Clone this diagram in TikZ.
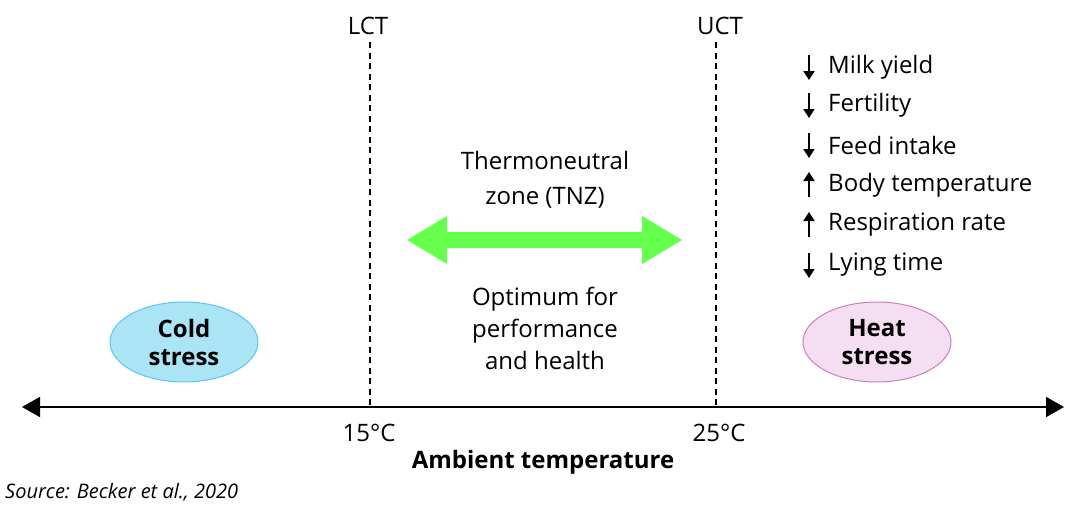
\documentclass[tikz,border=0pt]{standalone}
\usepackage{fontspec}
\setmainfont{Open Sans}
\usetikzlibrary{arrows.meta,shapes.geometric}
\definecolor{tnzgreen}{RGB}{102,255,77}
\definecolor{coldfill}{RGB}{170,228,245}
\definecolor{colddraw}{RGB}{90,200,232}
\definecolor{heatfill}{RGB}{246,222,242}
\definecolor{heatdraw}{RGB}{200,128,192}
\tikzset{
  lbl/.style={font=\fontsize{24}{28}\selectfont, inner sep=0pt},
  blbl/.style={font=\fontsize{24}{28}\selectfont\bfseries, align=center, inner sep=0pt},
  ctext/.style={font=\fontsize{24}{35}\selectfont, align=center, inner sep=0pt},
  otext/.style={font=\fontsize{24}{32}\selectfont, align=center, inner sep=0pt},
  dashline/.style={line width=1.3pt, dash pattern=on 6pt off 4.5pt},
  axis/.style={line width=1.8pt, {Triangle[length=18pt,width=20pt]}-{Triangle[length=18pt,width=20pt]}},
  stressbox/.style={ellipse, minimum width=148pt, minimum height=80pt, line width=1pt, inner sep=0pt},
  item/.style={font=\fontsize{24}{28}\selectfont, anchor=west, inner sep=0pt},
  trend/.style={line width=1.9pt, -{Triangle[length=9pt,width=11pt]}},
}
\begin{document}
\begin{tikzpicture}[x=1pt,y=-1pt]
\useasboundingbox (0,0) rectangle (1080,506);
% axis
\coordinate (axL) at (22,407);
\coordinate (axR) at (1064,407);
\draw[axis] (axL) -- (axR);
% dashed lines
\coordinate (lctTop) at (370,42);
\coordinate (lctBot) at (370,407);
\coordinate (uctTop) at (716,42);
\coordinate (uctBot) at (716,407);
\draw[dashline] (lctTop) -- (lctBot);
\draw[dashline] (uctTop) -- (uctBot);
\node[lbl] (lct) at (368,26) {LCT};
\node[lbl] (uct) at (720,26) {UCT};
\node[lbl] (t15) at (369,433) {15°C};
\node[lbl] (t25) at (719,433) {25°C};
\node[font=\fontsize{24}{28}\selectfont\bfseries, inner sep=0pt] (amb) at (543,462) {Ambient temperature};
\node[font=\fontsize{20}{24}\selectfont\itshape, anchor=west, inner sep=0pt] (src) at (5,492) {Source: Becker et al., 2020};
% ellipses
\node[stressbox, fill=coldfill, draw=colddraw] (cold) at (184,342) {};
\node[blbl] at (cold) {Cold\\stress};
\node[stressbox, fill=heatfill, draw=heatdraw] (heat) at (877,342) {};
\node[blbl] at (heat) {Heat\\stress};
% green arrow
\fill[tnzgreen] (407,240) -- (447,216) -- (447,232) -- (642,232) -- (642,216) -- (682,240)
  -- (642,264) -- (642,248) -- (447,248) -- (447,264) -- cycle;
\node[ctext] (tnz) at (545,180) {Thermoneutral\\zone (TNZ)};
\node[otext] (opt) at (545,328) {Optimum for\\performance\\and health};
% list
\foreach \y/\d/\t in {67/1/Milk yield,105/1/Fertility,145/1/Feed intake,185/-1/Body temperature,225/-1/Respiration rate,265/1/Lying time}{
  \coordinate (s) at (809,\y-12*\d);
  \coordinate (e) at (809,\y+13*\d);
  \draw[trend] (s) -- (e);
  \node[item] at (828,\y) {\t};
}
\end{tikzpicture}
\end{document}
